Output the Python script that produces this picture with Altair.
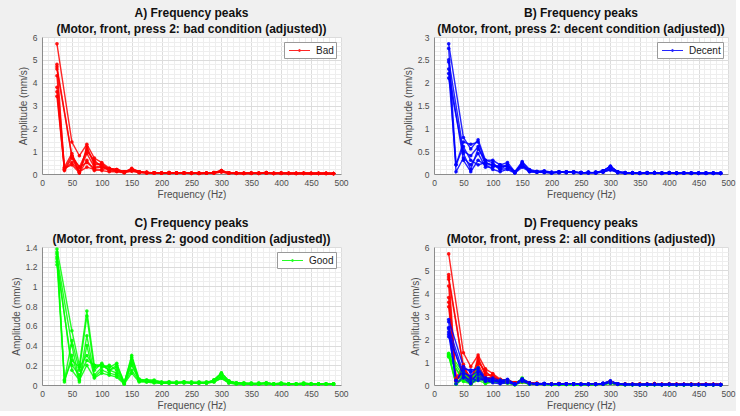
import altair as alt
import pandas as pd

FONT = "Liberation Sans"

FREQ_HEAD = [25, 37.5, 50, 62.5, 75, 87.5, 100, 112.5, 125, 137.5, 150, 162.5, 175, 187.5, 200]
FREQ_TAIL = [212.5, 225, 237.5, 250, 262.5, 275, 287.5, 300, 312.5, 325, 337.5, 350,
             362.5, 375, 387.5, 400, 412.5, 425, 437.5, 450, 462.5, 475, 487.5]

# Bad condition: amplitude (mm/s) per run at FREQ_HEAD
BAD_RUNS = [
    [5.7, None, 1.4, 0.8, 1.3, 0.7, 0.5, 0.25, 0.2, 0.1, 0.2, 0.1, 0.08, 0.05, 0.05],
    [4.8, 0.2, 0.8, 0.05, 1.2, 0.4, 0.45, 0.2, 0.15, 0.08, 0.25, 0.1, 0.06, 0.05, 0.04],
    [4.6, None, 0.75, 0.3, 1.0, 0.6, 0.3, 0.2, 0.2, 0.1, 0.15, 0.08, 0.07, 0.05, 0.04],
    [4.3, 0.3, 0.9, 0.1, 0.9, 0.3, 0.35, 0.15, 0.12, 0.06, 0.2, 0.1, 0.05, 0.04, 0.03],
    [3.8, 0.25, 0.4, 0.05, 0.6, 0.15, 0.2, 0.25, 0.18, 0.1, 0.18, 0.07, 0.06, 0.05, 0.04],
    [3.6, 0.15, 0.7, 0.05, 1.1, 0.5, 0.4, 0.2, 0.15, 0.08, 0.22, 0.1, 0.06, 0.05, 0.03],
    [3.4, 0.2, 0.5, 0.1, 0.3, 0.2, 0.15, 0.1, 0.1, 0.05, 0.12, 0.05, 0.04, 0.03, 0.03],
    [4.7, None, 0.8, 0.3, 0.5, 0.25, 0.3, 0.2, 0.2, 0.1, 0.15, 0.08, 0.05, 0.04, 0.03],
]
BAD_TAILS = [
    [0.04, 0.05, 0.03, 0.03, 0.03, 0.04, 0.06, 0.15, 0.05, 0.04, 0.03, 0.03, 0.03, 0.06, 0.03, 0.03, 0.02, 0.03, 0.03, 0.02, 0.03, 0.02, 0.02],
    [0.06, 0.04, 0.05, 0.04, 0.02, 0.03, 0.05, 0.11, 0.04, 0.03, 0.02, 0.04, 0.02, 0.04, 0.02, 0.04, 0.03, 0.02, 0.02, 0.03, 0.02, 0.03, 0.02],
    [0.03, 0.03, 0.04, 0.02, 0.04, 0.03, 0.04, 0.09, 0.03, 0.02, 0.03, 0.02, 0.04, 0.03, 0.02, 0.02, 0.03, 0.02, 0.03, 0.02, 0.02, 0.02, 0.01],
]

DECENT_RUNS = [
    [2.85, None, 0.8, 0.55, 0.75, 0.3, 0.3, 0.2, 0.25, 0.05, 0.27, 0.1, 0.06, 0.07, 0.04],
    [2.75, 0.2, 0.7, 0.65, 0.7, 0.25, 0.2, 0.15, 0.2, 0.03, 0.25, 0.08, 0.05, 0.06, 0.03],
    [2.5, None, 0.5, 0.4, 0.6, 0.2, 0.2, 0.1, 0.2, 0.05, 0.2, 0.06, 0.05, 0.05, 0.03],
    [2.45, 0.05, 0.35, 0.2, 0.45, 0.15, 0.15, 0.2, 0.15, 0.04, 0.22, 0.05, 0.04, 0.04, 0.03],
    [2.3, None, 0.3, 0.05, 0.3, 0.2, 0.1, 0.05, 0.1, 0.02, 0.15, 0.05, 0.04, 0.03, 0.02],
    [2.2, 0.2, 0.6, 0.3, 0.2, 0.25, 0.18, 0.15, 0.18, 0.04, 0.2, 0.07, 0.05, 0.05, 0.03],
    [2.1, None, 0.45, 0.1, 0.55, 0.3, 0.25, 0.1, 0.12, 0.03, 0.18, 0.06, 0.04, 0.04, 0.02],
]
DECENT_TAILS = [
    [0.05, 0.05, 0.04, 0.03, 0.03, 0.03, 0.07, 0.17, 0.05, 0.03, 0.02, 0.02, 0.02, 0.03, 0.02, 0.02, 0.02, 0.02, 0.02, 0.02, 0.02, 0.02, 0.02],
    [0.04, 0.03, 0.05, 0.02, 0.04, 0.02, 0.05, 0.12, 0.04, 0.02, 0.03, 0.02, 0.03, 0.02, 0.02, 0.03, 0.02, 0.02, 0.01, 0.02, 0.02, 0.01, 0.01],
    [0.03, 0.04, 0.03, 0.03, 0.02, 0.04, 0.04, 0.09, 0.03, 0.02, 0.02, 0.01, 0.02, 0.03, 0.01, 0.02, 0.01, 0.02, 0.02, 0.01, 0.01, 0.02, 0.01],
]

GOOD_RUNS = [
    [1.38, None, 0.55, 0.2, 0.75, 0.2, 0.2, 0.18, 0.22, 0.02, 0.3, 0.06, 0.05, 0.05, 0.03],
    [1.35, 0.05, 0.45, 0.15, 0.7, 0.15, 0.22, 0.15, 0.2, 0.03, 0.25, 0.05, 0.05, 0.04, 0.03],
    [1.3, None, 0.4, 0.05, 0.5, 0.1, 0.18, 0.2, 0.15, 0.02, 0.22, 0.04, 0.04, 0.03, 0.02],
    [1.25, 0.03, 0.3, 0.03, 0.4, 0.08, 0.15, 0.12, 0.1, 0.01, 0.2, 0.05, 0.03, 0.03, 0.02],
    [1.22, None, 0.2, 0.1, 0.25, 0.2, 0.2, 0.15, 0.12, 0.02, 0.15, 0.04, 0.04, 0.03, 0.02],
    [1.28, None, 0.15, 0.05, 0.2, 0.07, 0.12, 0.1, 0.08, 0.01, 0.12, 0.03, 0.03, 0.02, 0.02],
    [1.33, 0.05, 0.25, 0.18, 0.3, 0.18, 0.2, 0.15, 0.18, 0.02, 0.28, 0.05, 0.04, 0.03, 0.02],
]
GOOD_TAILS = [
    [0.03, 0.02, 0.03, 0.02, 0.02, 0.02, 0.05, 0.12, 0.04, 0.02, 0.02, 0.01, 0.01, 0.02, 0.01, 0.01, 0.01, 0.01, 0.01, 0.01, 0.01, 0.01, 0.01],
    [0.02, 0.03, 0.02, 0.03, 0.02, 0.03, 0.04, 0.09, 0.03, 0.02, 0.01, 0.02, 0.01, 0.02, 0.01, 0.02, 0.01, 0.01, 0.02, 0.01, 0.01, 0.01, 0.01],
    [0.02, 0.02, 0.03, 0.02, 0.03, 0.02, 0.03, 0.07, 0.02, 0.01, 0.01, 0.01, 0.02, 0.01, 0.01, 0.01, 0.01, 0.01, 0.01, 0.01, 0.01, 0.01, 0.01],
]

COND_COLORS = {"Bad": "#ff0000", "Decent": "#0000ff", "Good": "#00ff00"}

rows = []


def add(cond, runs, tails):
    for i, head in enumerate(runs):
        tail = tails[i % len(tails)]
        for f, a in zip(FREQ_HEAD + FREQ_TAIL, head + tail):
            if a is not None:
                rows.append({"cond": cond, "run": f"{cond}{i}", "freq": f, "amp": a})


add("Bad", BAD_RUNS, BAD_TAILS)
add("Good", GOOD_RUNS, GOOD_TAILS)
add("Decent", DECENT_RUNS, DECENT_TAILS)
df = pd.DataFrame(rows)

LEG_SYMBOL = "M-1.75,0H1.75M0,-0.17A0.17,0.17,0,1,1,0,0.17A0.17,0.17,0,1,1,0,-0.17"


def panel(conds, title, ymax, ystep, minor_count, show_legend, width, height):
    data = df[df["cond"].isin(conds)]
    xs = alt.Scale(domain=[0, 500], nice=False, zero=True)
    ys = alt.Scale(domain=[0, ymax], nice=False, zero=True)
    yvals = []
    v = 0.0
    while v <= ymax + 1e-9:
        yvals.append(round(v, 4))
        v += ystep
    minor_axis = dict(grid=True, gridColor="#eeeeee", labels=False, ticks=False, domain=False,
                      title=None, minExtent=0, maxExtent=0, offset=0)
    minor = alt.Chart(data).mark_point(opacity=0).encode(
        x=alt.X("freq:Q", scale=xs, axis=alt.Axis(orient="top", tickCount=50, **minor_axis)),
        y=alt.Y("amp:Q", scale=ys, axis=alt.Axis(orient="right", tickCount=minor_count, **minor_axis)),
    )
    cscale = alt.Scale(domain=conds, range=[COND_COLORS[c] for c in conds])
    if show_legend:
        legend = alt.Legend(orient="top-right", title=None, fillColor="white", strokeColor="#9a9a9a",
                            padding=2, offset=5, labelFont=FONT, labelFontSize=10, labelColor="#1a1a1a",
                            labelOffset=10, symbolType=LEG_SYMBOL, symbolSize=144, symbolStrokeWidth=1,
                            symbolOffset=7)
        color = alt.Color("cond:N", scale=cscale, legend=legend)
    else:
        color = alt.Color("cond:N", scale=cscale, legend=None)
    main = alt.Chart(data).mark_line(
        strokeWidth=1.4, opacity=0.85,
        point=alt.OverlayMarkDef(filled=True, size=13, opacity=0.9),
    ).encode(
        x=alt.X("freq:Q", scale=xs, title="Frequency (Hz)",
                axis=alt.Axis(values=list(range(0, 501, 50)), grid=True, ticks=False,
                              labelFlush=False, labelPadding=4, titlePadding=3)),
        y=alt.Y("amp:Q", scale=ys, title="Amplitude (mm/s)",
                axis=alt.Axis(values=yvals, format="~g", grid=True, ticks=False,
                              labelFlush=False, labelPadding=5, titlePadding=4)),
        color=color,
        detail="run:N",
    )
    return alt.layer(minor, main).resolve_axis(x="independent", y="independent").properties(
        width=width, height=height, title=alt.TitleParams(text=title)
    )


pA = panel(["Bad"], ["A) Frequency peaks", "(Motor, front, press 2: bad condition (adjusted))"],
           6, 1, 30, True, 299, 137)
pB = panel(["Decent"], ["B) Frequency peaks", "(Motor, front, press 2: decent condition (adjusted))"],
           3, 0.5, 30, True, 294, 137)
pC = panel(["Good"], ["C) Frequency peaks", "(Motor, front, press 2: good condition (adjusted))"],
           1.4, 0.2, 28, True, 299, 138)
pD = panel(["Bad", "Good", "Decent"], ["D) Frequency peaks", "(Motor, front, press 2: all conditions (adjusted))"],
           6, 1, 30, False, 294, 138)

chart = alt.concat(pA, pB, pC, pD, columns=2, spacing={"row": 73, "column": 93}, bounds="flush").resolve_scale(
    color="independent", x="independent", y="independent").resolve_legend(color="independent").configure(
    background="#f0f0f0",
    padding={"left": 10, "top": 6, "right": 0, "bottom": 0},
).configure_view(
    fill="white", stroke="transparent"
).configure_axis(
    labelFont=FONT, labelFontSize=8.5, labelColor="#4d4d4d",
    titleFont=FONT, titleFontSize=10, titleFontWeight="normal", titleColor="#4d4d4d",
    domainColor="#8c8c8c", gridColor="#dcdcdc",
).configure_title(
    font=FONT, fontSize=12, fontWeight="bold", color="#111111", anchor="middle",
    lineHeight=16, offset=-3,
)

chart.save("out.html", embed_options={"renderer": "svg", "actions": False})
